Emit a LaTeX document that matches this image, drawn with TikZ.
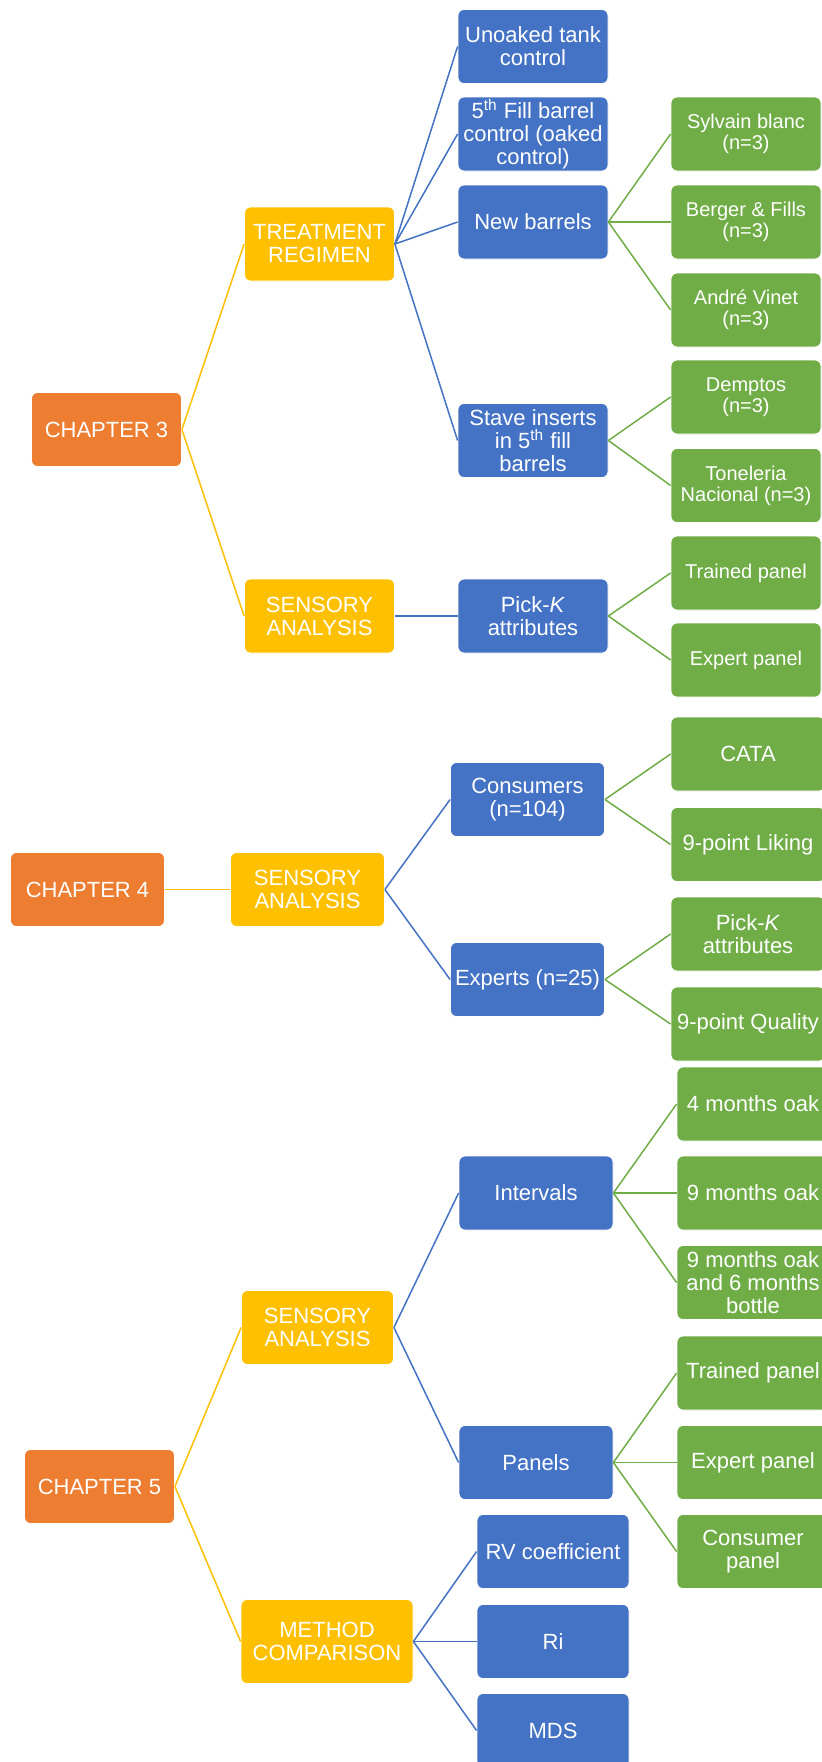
\documentclass[tikz,border=0pt]{standalone}
\usepackage{fontspec}
\setmainfont{Liberation Sans}
\usetikzlibrary{positioning}
\definecolor{CHorange}{RGB}{237,125,49}
\definecolor{CHgold}{RGB}{255,192,0}
\definecolor{CHblue}{RGB}{68,114,196}
\definecolor{CHgreen}{RGB}{112,173,71}
\tikzset{
  chapbox/.style={rounded corners=3pt,draw=white,line width=0.4pt,fill=CHorange,
                  text=white,align=center,inner sep=1pt,
                  font=\fontsize{11}{11.5}\selectfont,
                  minimum width=75pt,minimum height=37pt},
  themebox/.style={chapbox,fill=CHgold},
  itembox/.style={chapbox,fill=CHblue},
  leafbox/.style={chapbox,fill=CHgreen},
  leafsm/.style={leafbox,font=\fontsize{10}{10.5}\selectfont},
  lny/.style={line width=0.75pt,draw=CHgold},
  lnb/.style={line width=0.75pt,draw=CHblue},
  lng/.style={line width=0.75pt,draw=CHgreen}
}

\begin{document}
\begin{tikzpicture}[x=0.5pt,y=-0.5pt]
  \useasboundingbox[fill=white] (0,0) rectangle (821,1762);
  % chapter 3
  \node[chapbox] (ch3) at (106.5,429.5) {CHAPTER 3};
  \node[themebox] (treat) at (319.5,244) {TREATMENT\\REGIMEN};
  \node[themebox] (sens3) at (319.5,616) {SENSORY\\ANALYSIS};
  \node[itembox] (unoak) at (533,46.5) {Unoaked tank\\control};
  \node[itembox] (fill5) at (533,134) {5\textsuperscript{th} Fill barrel\\control (oaked\\control)};
  \node[itembox] (newb) at (533,222) {New barrels};
  \node[itembox] (stave) at (533,440.5) {Stave inserts\\in 5\textsuperscript{th} fill\\barrels};
  \node[itembox] (pick3) at (533,616) {Pick-\textit{K}\\attributes};
  \node[leafsm] (sylv) at (746,134) {Sylvain blanc\\(n=3)};
  \node[leafsm] (berg) at (746,222) {Berger \& Fills\\(n=3)};
  \node[leafsm] (andre) at (746,310) {André Vinet\\(n=3)};
  \node[leafsm] (dempt) at (746,397) {Demptos\\(n=3)};
  \node[leafsm] (tonel) at (746,485.5) {Toneleria\\Nacional (n=3)};
  \node[leafsm] (trn3) at (746,573) {Trained panel};
  \node[leafsm] (exp3) at (746,660) {Expert panel};
  \draw[lny] (ch3.east) -- (treat.west);
  \draw[lny] (ch3.east) -- (sens3.west);
  \foreach \n in {unoak,fill5,newb,stave}
    \draw[lnb] (treat.east) -- (\n.west);
  \draw[lnb] (sens3.east) -- (pick3.west);
  \foreach \n in {sylv,berg,andre}
    \draw[lng] (newb.east) -- (\n.west);
  \foreach \n in {dempt,tonel}
    \draw[lng] (stave.east) -- (\n.west);
  \foreach \n in {trn3,exp3}
    \draw[lng] (pick3.east) -- (\n.west);
  % chapter 4
  \node[chapbox,minimum width=77pt] (ch4) at (87.5,889.5) {CHAPTER 4};
  \node[themebox,minimum width=77pt] (sens4) at (307.5,889.5) {SENSORY\\ANALYSIS};
  \node[itembox,minimum width=77pt] (cons) at (527.5,799.5) {Consumers\\(n=104)};
  \node[itembox,minimum width=77pt] (expt) at (527.5,979.5) {Experts (n=25)};
  \node[leafbox,minimum width=77pt] (cata) at (748,754) {CATA};
  \node[leafbox,minimum width=77pt] (like) at (748,844.5) {9-point Liking};
  \node[leafbox,minimum width=77pt] (pick4) at (748,934) {Pick-\textit{K}\\attributes};
  \node[leafbox,minimum width=77pt] (qual) at (748,1024) {9-point Quality};
  \draw[lny] (ch4.east) -- (sens4.west);
  \foreach \n in {cons,expt}
    \draw[lnb] (sens4.east) -- (\n.west);
  \foreach \n in {cata,like}
    \draw[lng] (cons.east) -- (\n.west);
  \foreach \n in {pick4,qual}
    \draw[lng] (expt.east) -- (\n.west);
  % chapter 5
  \node[chapbox] (ch5) at (99.5,1486.5) {CHAPTER 5};
  \node[themebox,minimum width=76pt] (sens5) at (317.5,1327.5) {SENSORY\\ANALYSIS};
  \node[themebox,minimum width=86pt,minimum height=42pt] (meth) at (327,1641.5) {METHOD\\COMPARISON};
  \node[itembox,minimum width=77pt] (intv) at (536,1193) {Intervals};
  \node[itembox,minimum width=77pt] (pnls) at (536,1462.5) {Panels};
  \node[itembox,minimum width=76pt] (rvc) at (553,1551.5) {RV coefficient};
  \node[itembox,minimum width=76pt] (ri) at (553,1641.5) {Ri};
  \node[itembox,minimum width=76pt] (mds) at (553,1730.5) {MDS};
  \node[leafbox,minimum width=76pt] (m4) at (753,1104) {4 months oak};
  \node[leafbox,minimum width=76pt] (m9) at (753,1193) {9 months oak};
  \node[leafbox,minimum width=76pt] (m96) at (753,1282.5) {9 months oak\\and 6 months\\bottle};
  \node[leafbox,minimum width=76pt] (trn5) at (753,1373) {Trained panel};
  \node[leafbox,minimum width=76pt] (exp5) at (753,1462.5) {Expert panel};
  \node[leafbox,minimum width=76pt] (con5) at (753,1551.5) {Consumer\\panel};
  \draw[lny] (ch5.east) -- (sens5.west);
  \draw[lny] (ch5.east) -- (meth.west);
  \foreach \n in {intv,pnls}
    \draw[lnb] (sens5.east) -- (\n.west);
  \foreach \n in {rvc,ri,mds}
    \draw[lnb] (meth.east) -- (\n.west);
  \foreach \n in {m4,m9,m96}
    \draw[lng] (intv.east) -- (\n.west);
  \foreach \n in {trn5,exp5,con5}
    \draw[lng] (pnls.east) -- (\n.west);
\end{tikzpicture}
\end{document}
